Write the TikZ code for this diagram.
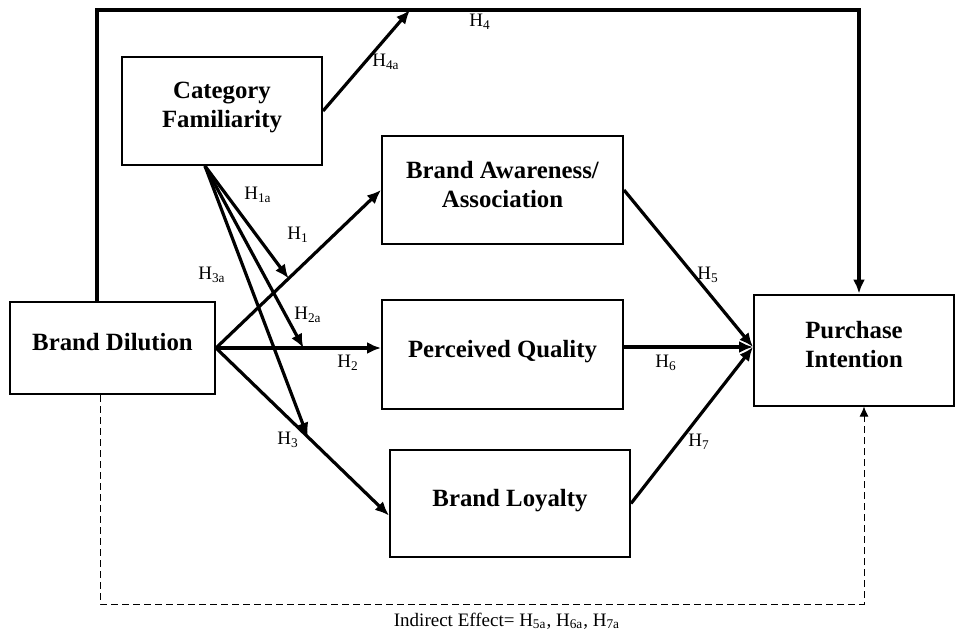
\documentclass[tikz,border=0pt]{standalone}
\usepackage{fontspec}
\setmainfont{Liberation Serif}
\usetikzlibrary{calc,arrows.meta,positioning}
\tikzset{
	construct/.style={
		draw, rectangle, line width=1pt, align=center,
		font=\fontsize{12.4}{14.5}\selectfont\bfseries,
		inner sep=2pt, text depth=6pt, text=black
	},
}

\begin{document}
\begin{tikzpicture}[x=0.5pt, y=-0.5pt,
			path_arrow/.style={line width=1.6pt, -{Latex[length=7pt,width=6pt]}},
			indirect_arrow/.style={line width=0.5pt, dash pattern=on 3.5pt off 2pt,
				-{Latex[length=5pt,width=4.5pt]}},
			hlabel/.style={font=\fontsize{9.5}{11}\selectfont, inner sep=0pt}]
		\useasboundingbox (0,0) rectangle (964,632);
		\node[construct, minimum width=100pt, minimum height=54pt]   (catfam)    at (222,111)   {Category\\Familiarity};
		\node[construct, minimum width=120.5pt, minimum height=54pt] (awareness) at (502.5,190) {Brand Awareness/\\Association};
		\node[construct, minimum width=102.5pt, minimum height=46pt] (dilution)  at (112.5,348) {Brand Dilution};
		\node[construct, minimum width=120.5pt, minimum height=54.5pt] (quality) at (502.5,354.5) {Perceived Quality};
		\node[construct, minimum width=120pt, minimum height=53.5pt] (loyalty)   at (510,503.5) {Brand Loyalty};
		\node[construct, minimum width=100pt, minimum height=55.5pt] (intention) at (854,350)   {Purchase\\Intention};
		\coordinate (top_left)   at (97,10);
		\coordinate (top_right)  at (859,10);
		\coordinate (h4a_end)    at (410,10);
		\coordinate (cf_src)     at ($(catfam.south)+(-17,0)$);
		\coordinate (pi_in)      at ($(intention.west)+(0,-3)$);
		\coordinate (dash_left)  at (100,604);
		\coordinate (dash_right) at (864,604);
		\draw[path_arrow] (dilution.north -| top_left) -- (top_left) -- (top_right) -- (intention.north -| top_right);
		\draw[path_arrow] (catfam.east) -- (h4a_end);
		\draw[path_arrow] (dilution.east) -- coordinate[pos=0.44] (h1a_end) (awareness.west);
		\draw[path_arrow] (dilution.east) -- coordinate[pos=0.53] (h2a_end) (dilution.east -| quality.west);
		\draw[path_arrow] (dilution.east) -- coordinate[pos=0.53] (h3a_end) ($(loyalty.west)+(0,12)$);
		\draw[path_arrow] (cf_src) -- (h1a_end);
		\draw[path_arrow] (cf_src) -- (h2a_end);
		\draw[path_arrow] (cf_src) -- (h3a_end);
		\draw[path_arrow] (awareness.east) -- (pi_in);
		\draw[path_arrow] (quality.east |- pi_in) -- (pi_in);
		\draw[path_arrow] (loyalty.east) -- (pi_in);
		\draw[indirect_arrow] (dilution.south -| dash_left) -- (dash_left) -- (dash_right) -- (intention.south -| dash_right);
		\node[hlabel] (h1)  at (298,235) {H\textsubscript{1}};
		\node[hlabel] (h1a) at (258,195) {H\textsubscript{1a}};
		\node[hlabel] (h2)  at (348,363) {H\textsubscript{2}};
		\node[hlabel] (h2a) at (308,315) {H\textsubscript{2a}};
		\node[hlabel] (h3)  at (288,440) {H\textsubscript{3}};
		\node[hlabel] (h3a) at (212,275) {H\textsubscript{3a}};
		\node[hlabel] (h4)  at (480,22)  {H\textsubscript{4}};
		\node[hlabel] (h4a) at (386,62)  {H\textsubscript{4a}};
		\node[hlabel] (h5)  at (708,275) {H\textsubscript{5}};
		\node[hlabel] (h6)  at (666,363) {H\textsubscript{6}};
		\node[hlabel] (h7)  at (699,442) {H\textsubscript{7}};
		\node[hlabel] (indirect_lbl) at (507,621) {Indirect Effect= H\textsubscript{5a}, H\textsubscript{6a}, H\textsubscript{7a}};
	\end{tikzpicture}
\end{document}
